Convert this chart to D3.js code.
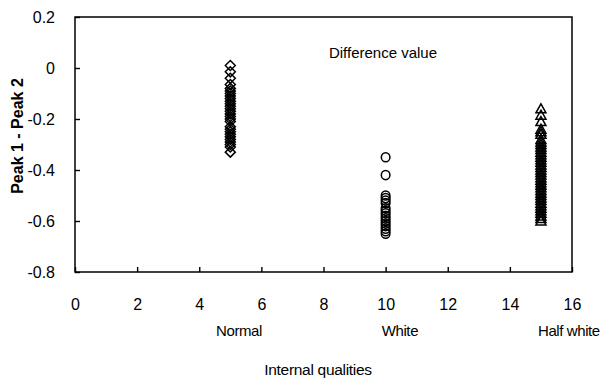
<!DOCTYPE html>
<html><head><meta charset="utf-8">
<script src="https://cdn.jsdelivr.net/npm/d3@7"></script>
<style>body{margin:0;background:#fff;} text{font-family:"Liberation Sans",Arial,sans-serif;fill:#000;}</style>
</head><body><svg id="c" width="607" height="380"></svg>
<script>
const categories = ["Normal", "White", "Half white"];
const categoryX = [5, 10, 15];
const labelX = [5.28, 10.46, 15.9];
const normalValues = [0.01, -0.015, -0.04, -0.065, -0.08, -0.09, -0.1, -0.11, -0.12, -0.13, -0.14, -0.15, -0.16, -0.17, -0.18, -0.19, -0.2, -0.21, -0.23, -0.24, -0.25, -0.26, -0.27, -0.28, -0.29, -0.3, -0.31, -0.33];
const whiteValues = [-0.35, -0.42, -0.5, -0.51, -0.52, -0.53, -0.55, -0.56, -0.57, -0.58, -0.59, -0.6, -0.61, -0.62, -0.63, -0.64, -0.65];
const halfWhiteValues = [-0.16, -0.185, -0.21, -0.24, -0.25, -0.26, -0.28, -0.29, -0.3, -0.31, -0.32, -0.33, -0.34, -0.35, -0.36, -0.37, -0.38, -0.39, -0.4, -0.41, -0.42, -0.43, -0.44, -0.45, -0.46, -0.47, -0.48, -0.49, -0.5, -0.51, -0.52, -0.53, -0.54, -0.55, -0.56, -0.57, -0.58, -0.59, -0.6];
const xTicks = [0, 2, 4, 6, 8, 10, 12, 14, 16];
const yTicks = [0.2, 0, -0.2, -0.4, -0.6, -0.8];
const yTickLabels = ["0.2", "0", "-0.2", "-0.4", "-0.6", "-0.8"];

const svg = d3.select("#c");
const L = 75, R = 572, T = 17, B = 272;
const x = d3.scaleLinear().domain([0, 16]).range([L, R]);
const y = d3.scaleLinear().domain([-0.8, 0.2]).range([B, T]);

svg.append("rect").attr("x", L).attr("y", T).attr("width", R - L).attr("height", B - T)
  .attr("fill", "none").attr("stroke", "#000").attr("stroke-width", 1.5);

const xa = svg.append("g").attr("transform", `translate(0,${B})`)
  .call(d3.axisBottom(x).tickValues(xTicks).tickSize(-5).tickPadding(27).tickFormat(d3.format("d")));
const ya = svg.append("g").attr("transform", `translate(${L},0)`)
  .call(d3.axisLeft(y).tickValues(yTicks).tickSize(-5).tickPadding(20).tickFormat((d, i) => yTickLabels[i]));
[xa, ya].forEach(g => {
  g.select(".domain").remove();
  g.selectAll(".tick line").attr("stroke", "#000").attr("stroke-width", 1.4);
  g.selectAll(".tick text").style("font-size", "16px").style("font-family", "Liberation Sans, Arial, sans-serif").attr("fill", "#000");
});

const series = [
  {vals: normalValues, xv: categoryX[0], shape: "diamond"},
  {vals: whiteValues, xv: categoryX[1], shape: "circle"},
  {vals: halfWhiteValues, xv: categoryX[2], shape: "triangle"}
];
series.forEach(s => {
  const g = svg.append("g");
  s.vals.forEach(v => {
    const cx = x(s.xv), cy = y(v);
    if (s.shape === "circle") {
      g.append("ellipse").attr("cx", cx).attr("cy", cy).attr("rx", 4.3).attr("ry", 4.6)
        .attr("fill", "none").attr("stroke", "#000").attr("stroke-width", 1.5);
    } else if (s.shape === "diamond") {
      g.append("path").attr("d", `M${cx},${cy-5}L${cx+5},${cy}L${cx},${cy+5}L${cx-5},${cy}Z`)
        .attr("fill", "none").attr("stroke", "#000").attr("stroke-width", 1.5);
    } else {
      g.append("path").attr("d", `M${cx},${cy-5}L${cx+5},${cy+4}L${cx-5},${cy+4}Z`)
        .attr("fill", "none").attr("stroke", "#000").attr("stroke-width", 1.5);
    }
  });
});

svg.append("text").attr("x", 383).attr("y", 58).attr("text-anchor", "middle")
  .style("font-size", "15px").text("Difference value");
svg.append("text").attr("transform", "translate(23,136) rotate(-90)").attr("text-anchor", "middle")
  .style("font-size", "16px").style("font-weight", "bold").text("Peak 1 - Peak 2");
categories.forEach((c, i) => {
  svg.append("text").attr("x", x(labelX[i])).attr("y", 336).attr("text-anchor", "middle")
    .style("font-size", "15px").style("letter-spacing", "-0.4px").text(c);
});
svg.append("text").attr("x", 318).attr("y", 375).attr("text-anchor", "middle")
  .style("font-size", "15.5px").style("letter-spacing", "-0.3px").text("Internal qualities");
</script></body></html>
